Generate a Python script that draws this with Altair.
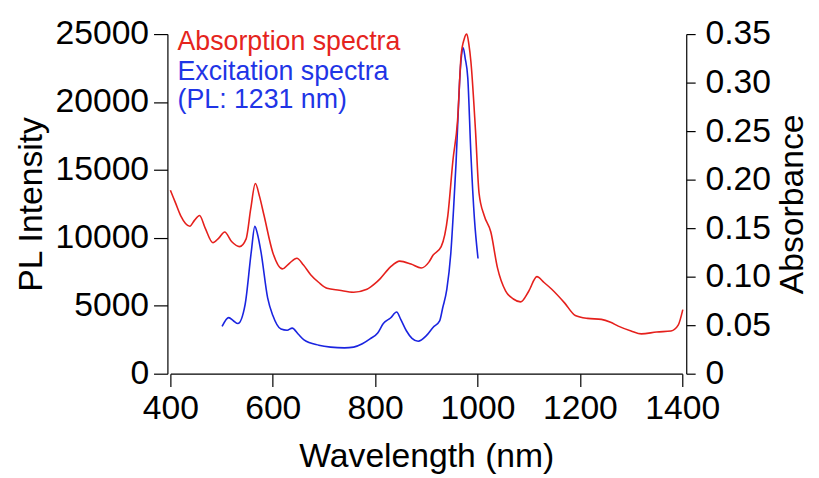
import altair as alt
import pandas as pd

# Excitation spectrum (PL monitored at 1231 nm) – left axis, PL intensity
exc_wl = [501, 514, 523, 532, 546, 558, 565, 570, 577, 590, 600, 616, 628, 638, 650,
          661, 690, 713, 740, 758, 775, 790, 805, 816, 830, 842, 850, 861, 872, 884,
          900, 913, 926, 932, 940, 948, 953, 958, 962, 965, 969, 972, 976, 981, 987,
          994, 1001]
exc_pl = [3478, 4130, 3900, 3695, 5094, 8963, 10847, 10300, 8963, 5580, 4300, 3285,
          3200, 3357, 2900, 2487, 2100, 1956, 1900, 1956, 2200, 2560, 3000, 3695, 4100,
          4540, 4000, 3163, 2600, 2391, 2800, 3406, 3890, 4855, 6200, 8963, 12000,
          15484, 19000, 21520, 23500, 23985, 23200, 21760, 16210, 11376, 8478]

# Absorption spectrum – right axis, absorbance
abs_wl = [400, 410, 420, 438, 447, 457, 468, 483, 495, 506, 520, 535, 548, 557, 566,
          574, 583, 600, 619, 633, 647, 660, 674, 690, 706, 730, 758, 784, 800, 810,
          830, 848, 870, 890, 905, 913, 929, 942, 952, 961, 968, 974, 979, 983, 987,
          996, 1003, 1013, 1026, 1039, 1055, 1070, 1084, 1100, 1116, 1130, 1145, 1170,
          1191, 1215, 1242, 1260, 1275, 1300, 1320, 1350, 1378, 1392, 1401]
abs_val = [0.189, 0.176, 0.163, 0.152, 0.158, 0.163, 0.150, 0.135, 0.140, 0.146, 0.136,
           0.131, 0.139, 0.170, 0.196, 0.183, 0.163, 0.125, 0.108, 0.114, 0.119, 0.112,
           0.102, 0.094, 0.088, 0.086, 0.084, 0.087, 0.093, 0.098, 0.110, 0.116, 0.113,
           0.109, 0.115, 0.122, 0.131, 0.163, 0.220, 0.261, 0.328, 0.345, 0.350, 0.340,
           0.322, 0.251, 0.186, 0.163, 0.146, 0.109, 0.085, 0.077, 0.074, 0.085, 0.100,
           0.094, 0.087, 0.073, 0.060, 0.057, 0.056, 0.053, 0.049, 0.044, 0.041, 0.043,
           0.044, 0.050, 0.066]

# Annotation labels
ann_text = ["Absorption spectra", "Excitation spectra", "(PL: 1231 nm)"]
ann_wl = [414, 414, 414]
ann_pl = [23855, 21625, 19555]
ann_color = ["#e5241d", "#1f35e6", "#1f35e6"]

x_ticks = [400, 600, 800, 1000, 1200, 1400]
pl_ticks = [0, 5000, 10000, 15000, 20000, 25000]
abs_ticks = [0, 0.05, 0.10, 0.15, 0.20, 0.25, 0.30, 0.35]

RED = "#e5201c"
BLUE = "#1a24e0"
FONT = "Liberation Sans"

exc_df = pd.DataFrame({"wl": exc_wl, "pl": exc_pl})
abs_df = pd.DataFrame({"wl": abs_wl, "absorb": abs_val})
ann_df = pd.DataFrame({"wl": ann_wl, "pl": ann_pl, "label": ann_text, "color": ann_color})

x_enc = alt.X("wl:Q", scale=alt.Scale(domain=[400, 1400], nice=False, zero=False),
              axis=alt.Axis(values=x_ticks, format="d", title="Wavelength (nm)",
                            tickSize=13, labelPadding=5, titlePadding=15, grid=False,
                            labelOverlap=False, labelFlush=False))

blue = alt.Chart(exc_df).mark_line(color=BLUE, strokeWidth=1.6, interpolate="monotone").encode(
    x=x_enc,
    y=alt.Y("pl:Q", scale=alt.Scale(domain=[0, 25000], nice=False),
            axis=alt.Axis(values=pl_ticks, format="d", title="PL Intensity", tickSize=14,
                          labelPadding=5, offset=3, titlePadding=7, grid=False,
                          labelOverlap=False)),
)

red = alt.Chart(abs_df).mark_line(color=RED, strokeWidth=1.6, interpolate="monotone").encode(
    x=x_enc,
    y=alt.Y("absorb:Q", scale=alt.Scale(domain=[0, 0.35], nice=False),
            axis=alt.Axis(orient="right", values=abs_ticks,
                          labelExpr="datum.value == 0 ? '0' : format(datum.value, '.2f')",
                          title="Absorbance", tickSize=9, labelPadding=10, offset=4,
                          titleAngle=270, titleBaseline="top", titlePadding=5, grid=False,
                          labelOverlap=False)),
)

text = alt.Chart(ann_df).mark_text(align="left", baseline="alphabetic", fontSize=27,
                                   font=FONT).encode(
    x=x_enc,
    y=alt.Y("pl:Q", scale=alt.Scale(domain=[0, 25000], nice=False), axis=None),
    text="label:N",
    color=alt.Color("color:N", scale=None),
)

chart = alt.layer(blue, red, text).resolve_scale(y="independent").properties(
    width=517, height=343,
    autosize=alt.AutoSizeParams(type="none"),
    padding={"left": 164, "top": 24, "right": 130, "bottom": 103},
).configure_view(stroke=None).configure_axis(
    labelFont=FONT, titleFont=FONT, labelFontSize=34, titleFontSize=34,
    titleFontWeight="normal", labelColor="black", titleColor="black",
    domainColor="black", tickColor="black", domainWidth=1.2, tickWidth=1.2,
)

chart.save("out.html", embed_options={"renderer": "svg", "actions": False})
